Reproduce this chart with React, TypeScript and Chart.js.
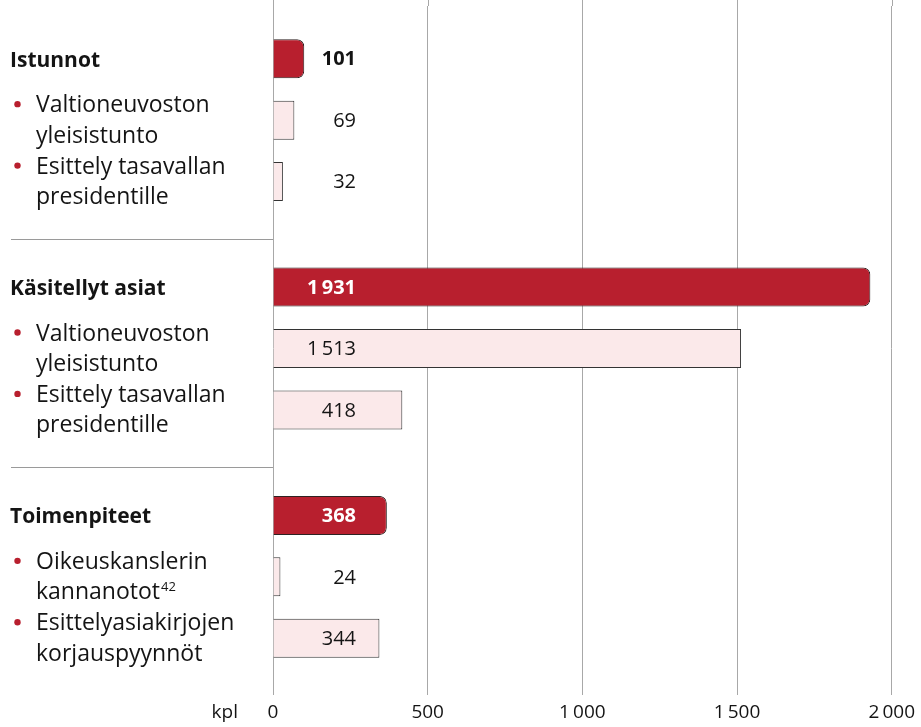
import React, { useEffect, useRef } from 'react';
import { Chart, registerables } from 'chart.js';

Chart.register(...registerables);

const groupLabels = ['Istunnot', 'Käsitellyt asiat', 'Toimenpiteet'];
const totalValues = [101, 1931, 368];
const firstItemValues = [69, 1513, 24];
const secondItemValues = [32, 418, 344];
const firstItemLabels = [
  ['Valtioneuvoston', 'yleisistunto'],
  ['Valtioneuvoston', 'yleisistunto'],
  ['Oikeuskanslerin', 'kannanotot^42'],
];
const secondItemLabels = [
  ['Esittely tasavallan', 'presidentille'],
  ['Esittely tasavallan', 'presidentille'],
  ['Esittelyasiakirjojen', 'korjauspyynnöt'],
];
const xTicks = [0, 500, 1000, 1500, 2000];
const unitLabel = 'kpl';

const FONT = '"Open Sans", "Noto Sans", sans-serif';
const TEXT = '#141414';
const DARK = '#b81f2e';
const LIGHT = '#fbe9ea';
const GRID = '#a8a8a8';

const fmt = (n: number) => {
  const s = String(Math.round(n));
  return s.length > 3 ? s.slice(0, s.length - 3) + '\u2009' + s.slice(s.length - 3) : s;
};

const drawLine = (ctx: CanvasRenderingContext2D, text: string, x: number, y: number, size: number) => {
  const [main, sup] = text.split('^');
  ctx.font = `500 ${size}px ${FONT}`;
  ctx.fillText(main, x, y);
  if (sup) {
    const w = ctx.measureText(main).width;
    ctx.font = `400 ${Math.round(size * 0.58)}px ${FONT}`;
    ctx.fillText(sup, x + w + 1, y - size * 0.38);
  }
};

const sidePlugin = {
  id: 'sideLabels',
  beforeDatasetsDraw(chart: any) {
    const { ctx, chartArea, scales } = chart;
    const xs = scales.x;
    ctx.save();
    ctx.strokeStyle = GRID;
    ctx.lineWidth = 1;
    xTicks.forEach((v) => {
      const px = Math.round(xs.getPixelForValue(v)) + 0.5;
      ctx.beginPath();
      ctx.moveTo(px, 0);
      ctx.lineTo(px, chartArea.top);
      ctx.stroke();
    });
    ctx.restore();
  },
  afterDatasetsDraw(chart: any) {
    const { ctx, scales } = chart;
    const xs = scales.x;
    const labelRight = xs.getPixelForValue(0) + 83;
    ctx.save();
    ctx.textAlign = 'right';
    ctx.textBaseline = 'middle';
    chart.data.datasets.forEach((ds: any, di: number) => {
      const meta = chart.getDatasetMeta(di);
      meta.data.forEach((el: any, i: number) => {
        const v = ds.data[i];
        const inside = di === 0 && el.x > labelRight + 4;
        ctx.fillStyle = inside ? '#ffffff' : TEXT;
        ctx.font = `${di === 0 ? 700 : 500} 20px ${FONT}`;
        ctx.fillText(fmt(v), labelRight, el.y + 1);
      });
    });
    ctx.restore();
  },
  afterDraw(chart: any) {
    const { ctx, chartArea, scales } = chart;
    const ys = scales.y;
    const m0 = chart.getDatasetMeta(0);
    const m1 = chart.getDatasetMeta(1);
    const m2 = chart.getDatasetMeta(2);
    ctx.save();
    ctx.fillStyle = TEXT;
    ctx.textAlign = 'left';
    ctx.textBaseline = 'alphabetic';
    groupLabels.forEach((g, i) => {
      ctx.fillStyle = TEXT;
      ctx.font = `700 21px ${FONT}`;
      ctx.fillText(g, 10, m0.data[i].y + 8);
      [
        [m1, firstItemLabels[i]],
        [m2, secondItemLabels[i]],
      ].forEach(([meta, lines]: any) => {
        const cy = meta.data[i].y;
        ctx.fillStyle = DARK;
        ctx.beginPath();
        ctx.arc(17.5, cy - 16, 3.2, 0, Math.PI * 2);
        ctx.fill();
        ctx.fillStyle = TEXT;
        lines.forEach((ln: string, k: number) => drawLine(ctx, ln, 36, cy - 8 + k * 30.5, 23));
      });
    });
    // separators between groups
    ctx.strokeStyle = '#9a9a9a';
    ctx.lineWidth = 1;
    for (let i = 0; i < groupLabels.length - 1; i++) {
      const y = Math.round(ys.getPixelForValue(i + 0.5) + 4.5) + 0.5;
      ctx.beginPath();
      ctx.moveTo(11, y);
      ctx.lineTo(chartArea.left, y);
      ctx.stroke();
    }
    // unit label
    ctx.font = `400 19px ${FONT}`;
    ctx.textAlign = 'right';
    ctx.textBaseline = 'middle';
    ctx.fillStyle = TEXT;
    ctx.fillText(unitLabel, 238, chartArea.bottom + 22);
    ctx.restore();
  },
};

export default function App() {
  const ref = useRef<HTMLCanvasElement>(null);
  useEffect(() => {
    if (!ref.current) return;
    const chart = new Chart(ref.current, {
      type: 'bar',
      data: {
        labels: groupLabels,
        datasets: [
          {
            data: totalValues,
            backgroundColor: DARK,
            borderColor: '#2e2222',
            borderWidth: 1,
            borderRadius: 7,
            borderSkipped: 'start',
          },
          {
            data: firstItemValues,
            backgroundColor: LIGHT,
            borderColor: '#333333',
            borderWidth: 1,
            borderRadius: 0,
            borderSkipped: 'start',
          },
          {
            data: secondItemValues,
            backgroundColor: LIGHT,
            borderColor: '#333333',
            borderWidth: 1,
            borderRadius: 0,
            borderSkipped: 'start',
          },
        ],
      },
      options: {
        indexAxis: 'y',
        responsive: false,
        animation: false,
        devicePixelRatio: 1,
        categoryPercentage: 0.807,
        barPercentage: 0.636,
        layout: { padding: { left: 273, right: 28, top: 6, bottom: 1 } },
        plugins: { legend: { display: false }, tooltip: { enabled: false } },
        scales: {
          x: {
            type: 'linear',
            min: 0,
            max: 2000,
            afterBuildTicks: (axis: any) => {
              axis.ticks = xTicks.map((v) => ({ value: v }));
            },
            afterFit: (axis: any) => {
              axis.height = 35;
            },
            ticks: {
              color: TEXT,
              font: { family: FONT, size: 19 },
              padding: 6,
              maxRotation: 0,
              callback: (v: any) => fmt(Number(v)),
            },
            grid: { color: GRID, lineWidth: 1, tickLength: 4, drawTicks: true },
            border: { display: false },
          },
          y: {
            type: 'category',
            display: false,
            grid: { display: false },
          },
        },
      },
      plugins: [sidePlugin],
    } as any);
    return () => chart.destroy();
  }, []);
  return (
    <div style={{ position: 'absolute', left: 0, top: 0, width: 921, height: 727, background: '#fff' }}>
      <canvas ref={ref} width={921} height={727} style={{ display: 'block', width: 921, height: 727 }} />
    </div>
  );
}
